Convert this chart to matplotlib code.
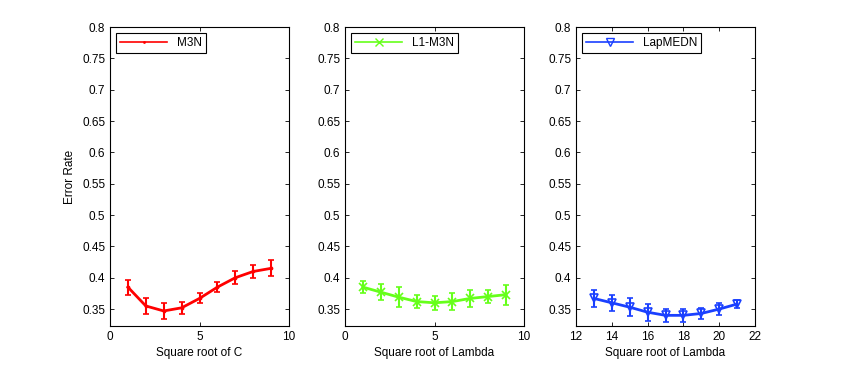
import matplotlib
matplotlib.use("Agg")
import matplotlib.pyplot as plt
from matplotlib.lines import Line2D

plt.rcParams['font.family'] = ['Liberation Sans', 'DejaVu Sans']
plt.rcParams['font.size'] = 8

# M3N vs sqrt(C)
c_x = [1, 2, 3, 4, 5, 6, 7, 8, 9]
m3n_err = [0.385, 0.355, 0.347, 0.352, 0.367, 0.385, 0.400, 0.410, 0.415]
m3n_std = [0.012, 0.013, 0.0125, 0.010, 0.008, 0.008, 0.010, 0.011, 0.013]

# L1-M3N vs sqrt(Lambda)
l1_x = [1, 2, 3, 4, 5, 6, 7, 8, 9]
l1_err = [0.385, 0.377, 0.369, 0.362, 0.360, 0.362, 0.367, 0.370, 0.373]
l1_std = [0.010, 0.013, 0.016, 0.011, 0.011, 0.014, 0.013, 0.011, 0.016]

# LapMEDN vs sqrt(Lambda)
lap_x = [13, 14, 15, 16, 17, 18, 19, 20, 21]
lap_err = [0.367, 0.360, 0.353, 0.345, 0.340, 0.340, 0.343, 0.350, 0.358]
lap_std = [0.013, 0.013, 0.014, 0.0135, 0.010, 0.010, 0.009, 0.010, 0.0065]

yticks = [0.35, 0.4, 0.45, 0.5, 0.55, 0.6, 0.65, 0.7, 0.75, 0.8]
ytick_labels = ["0.35", "0.4", "0.45", "0.5", "0.55", "0.6", "0.65", "0.7", "0.75", "0.8"]

W, H = 843, 368
fig = plt.figure(figsize=(W / 100, H / 100), dpi=100)

panels = [
    (110, c_x, m3n_err, m3n_std, (1, 0, 0), ".", "M3N", "Square root of C",
     (0, 10), [0, 5, 10]),
    (345, l1_x, l1_err, l1_std, (0.4, 1, 0.1), "x", "L1-M3N", "Square root of Lambda",
     (0, 10), [0, 5, 10]),
    (576, lap_x, lap_err, lap_std, (0.1, 0.25, 1), "v", "LapMEDN", "Square root of Lambda",
     (12, 22), [12, 14, 16, 18, 20, 22]),
]

for i, (left, xs, ys, es, col, mk, lab, xlab, xl, xt) in enumerate(panels):
    ax = fig.add_axes([left / W, 42 / H, 179 / W, 299 / H])
    mfc = "none" if mk == "v" else col
    ms = 3 if mk == "." else 5.5
    ax.errorbar(xs, ys, yerr=es, color=col, lw=2, marker=mk, ms=ms,
                mfc=mfc, mec=col, mew=1.2, elinewidth=1.5, capsize=2, capthick=1.5)
    ax.set_xlim(*xl)
    ax.set_xticks(xt)
    ax.set_ylim(0.323, 0.8)
    ax.set_yticks(yticks)
    ax.set_yticklabels(ytick_labels)
    ax.tick_params(direction="in", top=True, right=True, length=3, width=0.6, labelsize=8.5)
    for s in ax.spines.values():
        s.set_linewidth(0.8)
    ax.set_xlabel(xlab, fontsize=8.5, labelpad=3)
    if i == 0:
        ax.set_ylabel("Error Rate", fontsize=8.5)
    handle = Line2D([], [], color=col, lw=1.2, marker=mk, ms=ms if mk != "." else 2,
                    mfc=mfc, mec=col, mew=1.0)
    leg = ax.legend([handle], [lab], loc="upper left", fancybox=False, edgecolor="black",
                    fontsize=8.5, handlelength=4, borderaxespad=0.5, borderpad=0.35,
                    framealpha=1)
    leg.get_frame().set_linewidth(0.8)

fig.savefig("out.png", dpi=100)
